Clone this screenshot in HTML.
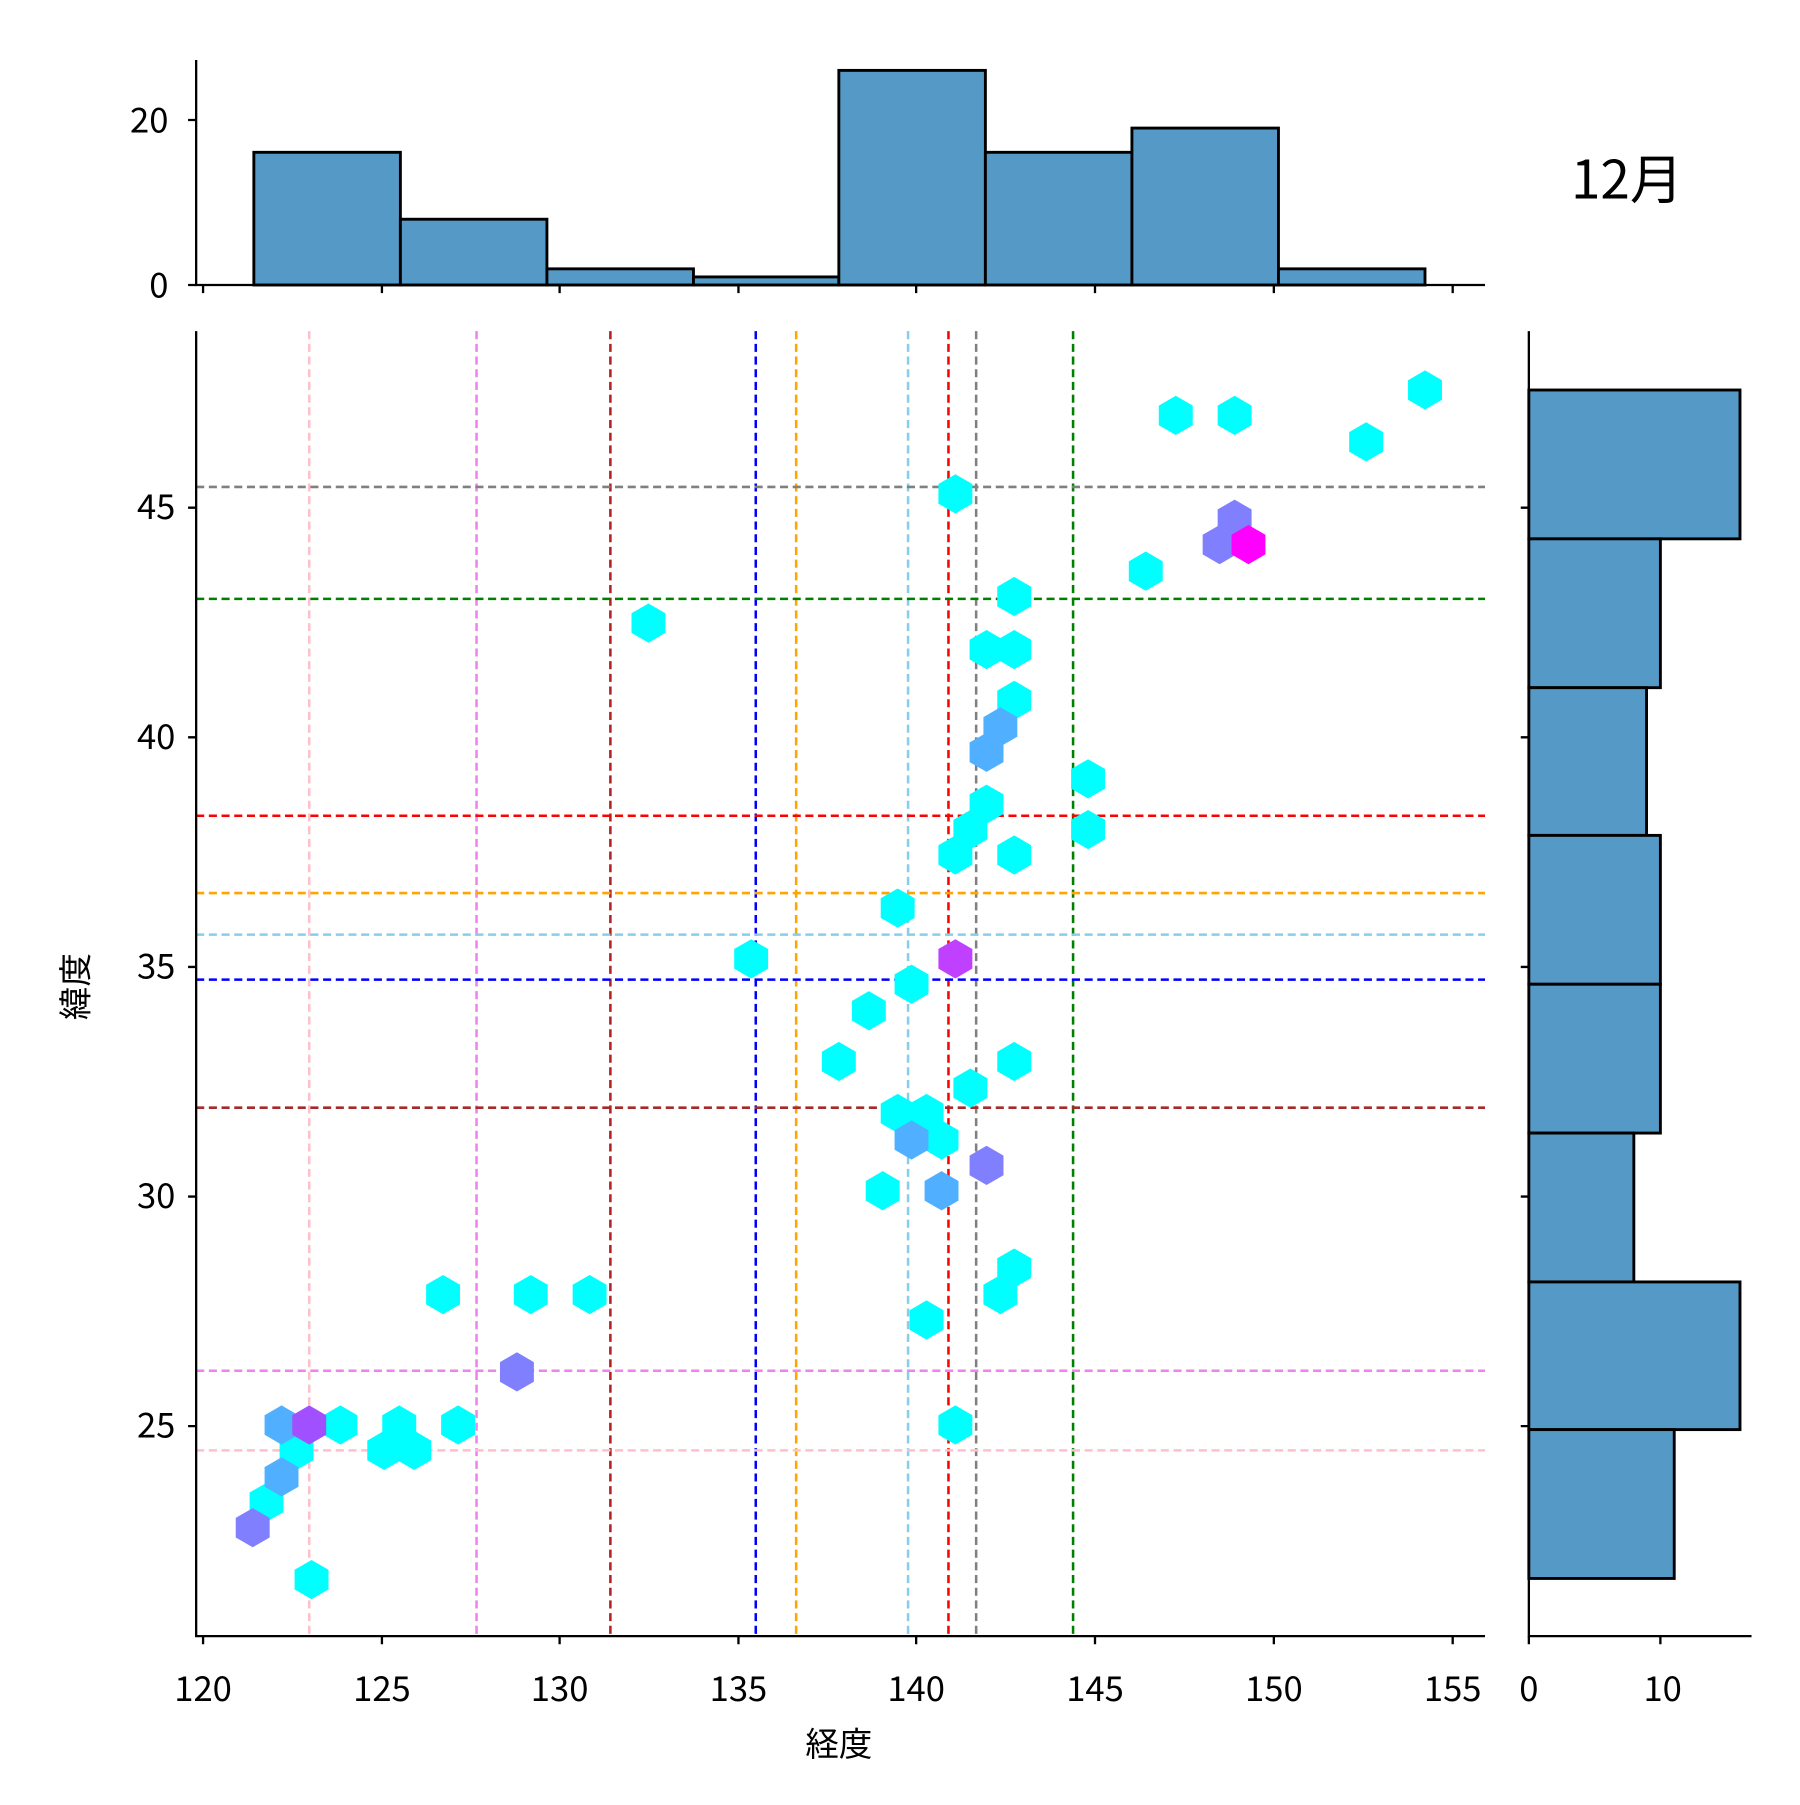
<!DOCTYPE html><html><head><meta charset="utf-8"><style>body{margin:0;background:#fff}</style></head><body>
<svg width="1800" height="1800" viewBox="0 0 1560 1560" xmlns="http://www.w3.org/2000/svg" font-family="Noto Sans CJK JP, Liberation Sans, sans-serif">
<defs><polygon id="h" points="0,-17 14.7,-8.5 14.7,8.5 0,17 -14.7,8.5 -14.7,-8.5"/></defs>
<g fill="#5599c6" stroke="#000" stroke-width="2.5">
<rect x="220" y="132" width="127" height="115"/><rect x="347" y="190" width="127" height="57"/><rect x="474" y="233" width="127" height="14"/><rect x="601" y="240" width="126" height="7"/><rect x="727" y="61" width="127" height="186"/><rect x="854" y="132" width="127" height="115"/><rect x="981" y="111" width="127" height="136"/><rect x="1108" y="233" width="127" height="14"/>
<rect x="1325" y="338" width="183" height="129"/><rect x="1325" y="467" width="114" height="129"/><rect x="1325" y="596" width="102" height="128"/><rect x="1325" y="724" width="114" height="129"/><rect x="1325" y="853" width="114" height="129"/><rect x="1325" y="982" width="91" height="129"/><rect x="1325" y="1111" width="183" height="128"/><rect x="1325" y="1239" width="126" height="129"/>
</g>
<g stroke-width="2.2" stroke-dasharray="7,4">
<line x1="268" y1="287" x2="268" y2="1418" stroke="pink"/><line x1="413" y1="287" x2="413" y2="1418" stroke="violet"/><line x1="529" y1="287" x2="529" y2="1418" stroke="#b22222"/><line x1="655" y1="287" x2="655" y2="1418" stroke="blue"/><line x1="690" y1="287" x2="690" y2="1418" stroke="orange"/><line x1="787" y1="287" x2="787" y2="1418" stroke="#87ceeb"/><line x1="822" y1="287" x2="822" y2="1418" stroke="red"/><line x1="846" y1="287" x2="846" y2="1418" stroke="gray"/><line x1="930" y1="287" x2="930" y2="1418" stroke="green"/>
<line x1="170" y1="422" x2="1287" y2="422" stroke="gray"/><line x1="170" y1="519" x2="1287" y2="519" stroke="green"/><line x1="170" y1="707" x2="1287" y2="707" stroke="red"/><line x1="170" y1="774" x2="1287" y2="774" stroke="orange"/><line x1="170" y1="810" x2="1287" y2="810" stroke="#87ceeb"/><line x1="170" y1="849" x2="1287" y2="849" stroke="blue"/><line x1="170" y1="960" x2="1287" y2="960" stroke="#a52a2a"/><line x1="170" y1="1188" x2="1287" y2="1188" stroke="violet"/><line x1="170" y1="1257" x2="1287" y2="1257" stroke="pink"/>
</g>
<g fill="#00ffff">
<use href="#h" x="1235" y="338"/><use href="#h" x="1019" y="360"/><use href="#h" x="1070" y="360"/><use href="#h" x="1184" y="383"/><use href="#h" x="828" y="428"/><use href="#h" x="993" y="495"/><use href="#h" x="879" y="517"/><use href="#h" x="562" y="540"/><use href="#h" x="855" y="563"/><use href="#h" x="879" y="563"/><use href="#h" x="879" y="607"/><use href="#h" x="943" y="675"/><use href="#h" x="855" y="697"/><use href="#h" x="943" y="719"/><use href="#h" x="841" y="719"/><use href="#h" x="828" y="741"/><use href="#h" x="879" y="741"/><use href="#h" x="778" y="787"/><use href="#h" x="651" y="831"/><use href="#h" x="790" y="853"/><use href="#h" x="753" y="876"/><use href="#h" x="727" y="920"/><use href="#h" x="879" y="920"/><use href="#h" x="841" y="943"/><use href="#h" x="778" y="965"/><use href="#h" x="803" y="965"/><use href="#h" x="816" y="988"/><use href="#h" x="765" y="1032"/><use href="#h" x="879" y="1099"/><use href="#h" x="867" y="1122"/><use href="#h" x="384" y="1122"/><use href="#h" x="460" y="1122"/><use href="#h" x="511" y="1122"/><use href="#h" x="803" y="1144"/><use href="#h" x="295" y="1235"/><use href="#h" x="346" y="1235"/><use href="#h" x="397" y="1235"/><use href="#h" x="828" y="1235"/><use href="#h" x="333" y="1257"/><use href="#h" x="359" y="1257"/><use href="#h" x="257" y="1257"/><use href="#h" x="231" y="1302"/><use href="#h" x="270" y="1369"/>
</g>
<g fill="#50b0ff"><use href="#h" x="867" y="630"/><use href="#h" x="855" y="652"/><use href="#h" x="790" y="988"/><use href="#h" x="816" y="1032"/><use href="#h" x="244" y="1235"/><use href="#h" x="244" y="1280"/></g>
<g fill="#8080ff"><use href="#h" x="1070" y="450"/><use href="#h" x="1057" y="472"/><use href="#h" x="855" y="1010"/><use href="#h" x="448" y="1189"/><use href="#h" x="219" y="1324"/></g>
<use href="#h" x="1082" y="472" fill="#ff00ff"/><use href="#h" x="828" y="831" fill="#c040ff"/><use href="#h" x="268" y="1235" fill="#a050ff"/>
<g stroke="#000" stroke-width="2" fill="none">
<polyline points="170,52 170,247 1287,247"/><polyline points="170,287 170,1418 1287,1418"/><polyline points="1325,287 1325,1418 1518,1418"/>
<path d="M176,247v7M331,247v7M485,247v7M640,247v7M794,247v7M949,247v7M1104,247v7M1259,247v7M170,104h-7M170,247h-7"/>
<path d="M176,1418v7M331,1418v7M485,1418v7M640,1418v7M794,1418v7M949,1418v7M1104,1418v7M1259,1418v7M1325,1418v7M1439,1418v7"/>
<path d="M170,440h-7M170,639h-7M170,838h-7M170,1037h-7M170,1236h-7M1325,440h-7M1325,639h-7M1325,838h-7M1325,1037h-7M1325,1236h-7"/>
</g>
<g font-size="30" fill="#000" text-anchor="middle">
<text x="176" y="1474">120</text><text x="331" y="1474">125</text><text x="485" y="1474">130</text><text x="640" y="1474">135</text><text x="794" y="1474">140</text><text x="949" y="1474">145</text><text x="1104" y="1474">150</text><text x="1259" y="1474">155</text><text x="1325" y="1474">0</text><text x="1441" y="1474">10</text>
<g text-anchor="end"><text x="152" y="450">45</text><text x="152" y="649">40</text><text x="152" y="848">35</text><text x="152" y="1047">30</text><text x="152" y="1246">25</text><text x="146" y="115">20</text><text x="146" y="258">0</text></g>
<text x="727" y="1522" font-size="29">経度</text>
<text transform="translate(76,855) rotate(-90)" font-size="29">緯度</text>
<text x="1410" y="172" font-size="46">12月</text>
</g>
</svg></body></html>
